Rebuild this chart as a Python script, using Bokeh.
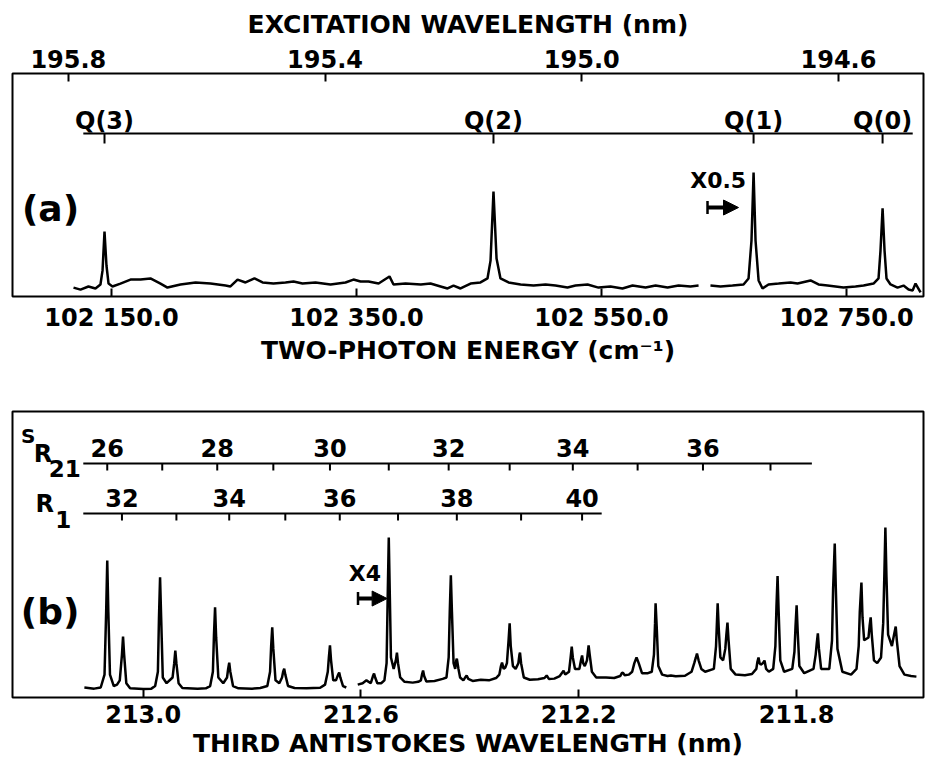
import math
from bokeh.plotting import figure
from bokeh.layouts import column
from bokeh.models import (Range1d, LinearAxis, FixedTicker, PrintfTickFormatter,
                          Arrow, NormalHead, TeeHead)
from bokeh.core.properties import value
from bokeh.embed import file_html
from bokeh.resources import INLINE

NaN = float("nan")
FONT = "DejaVu Sans"

# ---------------- panel (a): two-photon excitation spectrum ----------------
a_energy = [102119.0, 102124.7, 102131.2, 102136.9, 102141.0, 102142.7, 102144.3, 102145.9, 102147.6, 102150.8,
            102157.3, 102165.5, 102173.7, 102181.8, 102190.0, 102195.7, 102206.3, 102218.6, 102230.8, 102243.1,
            102247.1, 102252.9, 102259.4, 102266.7, 102273.3, 102282.2, 102292.0, 102298.6, 102305.9, 102316.5,
            102328.8, 102341.0, 102347.5, 102353.3, 102359.8, 102368.0, 102376.9, 102380.2, 102390.0, 102402.5,
            102410.4, 102418.6, 102424.3, 102429.2, 102434.9, 102443.1, 102451.2, 102456.9, 102459.4, 102461.8,
            102464.3, 102467.5, 102474.1, 102483.9, 102494.5, 102504.3, 102512.4, 102522.2, 102528.8, 102538.6,
            102547.5, 102557.3, 102567.1, 102575.3, 102585.9, 102594.1, 102603.9, 102612.9, 102622.6, 102629.2,
            NaN,
            102638.9, 102647.1, 102656.9, 102665.9, 102670.0, 102672.4, 102674.1, 102675.7, 102678.2, 102681.4,
            102686.3, 102694.5, 102704.3, 102710.0, 102720.6, 102727.1, 102734.5, 102747.5, 102757.3, 102763.9,
            102772.0, 102776.1, 102777.7, 102779.4, 102781.0, 102782.6, 102785.9, 102791.6, 102796.5, 102800.6,
            102803.9, 102806.3, 102810.4]
a_signal = [0.040, 0.031, 0.045, 0.036, 0.054, 0.117, 0.291, 0.139, 0.058, 0.045,
            0.058, 0.076, 0.076, 0.081, 0.058, 0.040, 0.054, 0.063, 0.058, 0.049,
            0.045, 0.076, 0.063, 0.081, 0.063, 0.058, 0.063, 0.067, 0.058, 0.063,
            0.054, 0.063, 0.076, 0.067, 0.067, 0.058, 0.090, 0.054, 0.058, 0.054,
            0.058, 0.045, 0.036, 0.049, 0.036, 0.058, 0.063, 0.081, 0.161, 0.471,
            0.170, 0.081, 0.063, 0.054, 0.049, 0.054, 0.049, 0.040, 0.049, 0.054,
            0.040, 0.045, 0.036, 0.049, 0.040, 0.049, 0.040, 0.049, 0.045, 0.049,
            NaN,
            0.049, 0.045, 0.049, 0.054, 0.081, 0.251, 0.556, 0.251, 0.072, 0.036,
            0.054, 0.058, 0.063, 0.058, 0.072, 0.054, 0.049, 0.040, 0.045, 0.049,
            0.058, 0.081, 0.206, 0.395, 0.206, 0.081, 0.054, 0.040, 0.049, 0.031,
            0.027, 0.058, 0.018]

q_labels = ["Q(3)", "Q(2)", "Q(1)", "Q(0)"]
q_energy = [102144.3, 102461.8, 102674.1, 102779.4]
q_line_span = [102127.0, 102804.0]

a_bottom_ticks = [102150, 102350, 102550, 102750]
a_bottom_labels = ["102 150.0", "102 350.0", "102 550.0", "102 750.0"]
a_top_ticks = [195.8, 195.4, 195.0, 194.6]

# ---------------- panel (b): third antistokes spectrum ----------------
b_wl = [213.108, 213.090, 213.078, 213.071, 213.068, 213.066, 213.064, 213.061, 213.054, 213.048,
        213.043, 213.039, 213.037, 213.035, 213.031, 213.024, 213.000, 212.985,
        212.978, 212.973, 212.971, 212.969, 212.967, 212.964, 212.957, 212.946, 212.943, 212.941, 212.939, 212.935, 212.928, 212.900, 212.885,
        212.877, 212.872, 212.870, 212.868, 212.866, 212.862, 212.853, 212.846, 212.844, 212.842, 212.840, 212.835, 212.825, 212.800, 212.785,
        212.772, 212.767, 212.765, 212.763, 212.761, 212.757, 212.750, 212.745, 212.743, 212.741, 212.739, 212.734, 212.722, 212.700, 212.675,
        212.666, 212.661, 212.659, 212.657, 212.655, 212.651, 212.646, 212.642, 212.640, 212.638, 212.633, 212.627, NaN,
        212.606, 212.597, 212.590, 212.582, 212.578, 212.576, 212.574, 212.570, 212.563,
        212.557, 212.553, 212.551, 212.549, 212.547, 212.545, 212.540, 212.536, 212.534, 212.532, 212.528, 212.520, 212.505, 212.495,
        212.490, 212.488, 212.486, 212.484, 212.480, 212.465, 212.450,
        212.443, 212.439, 212.437, 212.435, 212.433, 212.430, 212.427, 212.425, 212.424, 212.421, 212.418, 212.412, 212.408, 212.406, 212.403, 212.395,
        212.380, 212.365, 212.352, 212.346, 212.343, 212.341, 212.338, 212.335, 212.332, 212.329, 212.327, 212.325, 212.321, 212.316, 212.311, 212.309, 212.308, 212.306, 212.301, 212.290,
        212.275, 212.263, 212.259, 212.255, 212.245, 212.235, 212.230, 212.228, 212.225, 212.218, 212.215, 212.213, 212.211, 212.207,
        212.199, 212.196, 212.194, 212.192, 212.189, 212.185, 212.182, 212.180, 212.176, 212.168, 212.150, 212.135,
        212.124, 212.121, 212.119, 212.116, 212.108, 212.102, 212.098, 212.094, 212.090, 212.084, 212.073,
        212.066, 212.062, 212.060, 212.059, 212.057, 212.054, 212.047, 212.037, 212.031, 212.022, 212.005,
        211.993, 211.988, 211.985, 211.983, 211.980, 211.975, 211.968, 211.952, 211.948, 211.946, 211.945, 211.943, 211.940,
        211.935, 211.931, 211.929, 211.927, 211.925, 211.921, 211.912, 211.895, 211.882,
        211.874, 211.872, 211.870, 211.868, 211.866, 211.862, 211.859, 211.856, 211.851,
        211.843, 211.839, 211.837, 211.835, 211.833, 211.830, 211.823,
        211.808, 211.804, 211.802, 211.800, 211.798, 211.795, 211.786,
        211.769, 211.765, 211.763, 211.761, 211.759, 211.755,
        211.740, 211.735, 211.733, 211.730, 211.728, 211.725, 211.716, 211.700,
        211.690, 211.686, 211.684, 211.681, 211.679, 211.676, 211.668, 211.666, 211.664, 211.662, 211.658, 211.652,
        211.645, 211.641, 211.639, 211.637, 211.635, 211.632, 211.625, 211.621, 211.618, 211.616, 211.611, 211.602, 211.590, 211.580]
b_signal = [0.035, 0.031, 0.035, 0.08, 0.30, 0.479, 0.30, 0.08, 0.04, 0.045,
            0.06, 0.15, 0.213, 0.15, 0.05, 0.032, 0.030, 0.031,
            0.04, 0.09, 0.28, 0.420, 0.28, 0.07, 0.05, 0.07, 0.12, 0.164, 0.12, 0.05, 0.033, 0.031, 0.032,
            0.04, 0.09, 0.22, 0.315, 0.21, 0.07, 0.05, 0.07, 0.10, 0.122, 0.09, 0.04, 0.032, 0.031, 0.033,
            0.04, 0.09, 0.18, 0.245, 0.17, 0.06, 0.05, 0.07, 0.09, 0.101, 0.08, 0.04, 0.033, 0.032, 0.034,
            0.045, 0.09, 0.14, 0.182, 0.13, 0.06, 0.06, 0.08, 0.087, 0.07, 0.04, 0.035, NaN,
            0.045, 0.05, 0.06, 0.05, 0.075, 0.084, 0.07, 0.05, 0.05,
            0.06, 0.12, 0.35, 0.559, 0.35, 0.14, 0.10, 0.13, 0.157, 0.12, 0.07, 0.055, 0.052, 0.055,
            0.06, 0.08, 0.094, 0.075, 0.056, 0.058, 0.065,
            0.07, 0.14, 0.30, 0.427, 0.30, 0.12, 0.10, 0.13, 0.136, 0.10, 0.07, 0.06, 0.072, 0.077, 0.065, 0.058,
            0.062, 0.060, 0.068, 0.08, 0.11, 0.122, 0.10, 0.105, 0.12, 0.20, 0.259, 0.18, 0.11, 0.10, 0.12, 0.15, 0.157, 0.12, 0.07, 0.062,
            0.064, 0.068, 0.077, 0.065, 0.066, 0.075, 0.088, 0.094, 0.08, 0.09, 0.14, 0.178, 0.14, 0.10,
            0.10, 0.13, 0.147, 0.12, 0.11, 0.13, 0.182, 0.15, 0.09, 0.07, 0.070, 0.068,
            0.075, 0.085, 0.087, 0.078, 0.08, 0.09, 0.12, 0.140, 0.12, 0.085, 0.085,
            0.09, 0.15, 0.26, 0.329, 0.25, 0.11, 0.08, 0.075, 0.077, 0.074, 0.076,
            0.09, 0.12, 0.14, 0.154, 0.13, 0.10, 0.09, 0.10, 0.18, 0.28, 0.329, 0.24, 0.14,
            0.13, 0.17, 0.22, 0.262, 0.20, 0.10, 0.08, 0.078, 0.082,
            0.10, 0.125, 0.140, 0.12, 0.115, 0.12, 0.129, 0.10, 0.09,
            0.10, 0.18, 0.32, 0.425, 0.30, 0.13, 0.09,
            0.10, 0.16, 0.25, 0.322, 0.23, 0.11, 0.085,
            0.10, 0.15, 0.19, 0.224, 0.17, 0.10,
            0.10, 0.20, 0.38, 0.538, 0.38, 0.17, 0.09, 0.08,
            0.10, 0.18, 0.30, 0.402, 0.28, 0.20, 0.21, 0.25, 0.280, 0.22, 0.13, 0.12,
            0.14, 0.26, 0.42, 0.594, 0.42, 0.22, 0.18, 0.22, 0.248, 0.20, 0.11, 0.08, 0.075, 0.073]

sr21_J = [26, 27, 28, 29, 30, 31, 32, 33, 34, 35, 36, 37]
sr21_wl = [213.066, 212.965, 212.864, 212.761, 212.657, 212.549, 212.439, 212.327, 212.211, 212.092, 211.972, 211.848]
sr21_span = [213.110, 211.772]
r1_J = [32, 33, 34, 35, 36, 37, 38, 39, 40]
r1_wl = [213.039, 212.939, 212.842, 212.739, 212.639, 212.532, 212.424, 212.306, 212.194]
r1_span = [213.110, 212.158]

b_ticks = [213.0, 212.6, 212.2, 211.8]

assert len(a_energy) == len(a_signal)
assert len(b_wl) == len(b_signal)

LABEL_SIZE = "24px"
TITLE_SIZE = "25px"


def style_axis(ax):
    ax.axis_line_color = None
    ax.major_tick_in = 8
    ax.major_tick_out = 0
    ax.minor_tick_line_color = None
    ax.major_tick_line_width = 2
    ax.major_tick_line_color = "black"
    ax.major_label_text_font = FONT
    ax.major_label_text_font_style = "bold"
    ax.major_label_text_font_size = LABEL_SIZE
    ax.major_label_text_color = "black"
    ax.axis_label_text_font = FONT
    ax.axis_label_text_font_style = "bold"
    ax.axis_label_text_font_size = TITLE_SIZE
    ax.axis_label_text_color = "black"


def texts(p, xs, ys, labels, size=LABEL_SIZE, align="center"):
    p.text(x=xs, y=ys, text=labels, text_align=align, text_baseline="middle",
           text_font=value(FONT), text_font_style="bold", text_font_size=size,
           text_color="black")


# ---------------- figure (a) ----------------
pa = figure(width=925, height=370, output_backend="svg", toolbar_location=None,
            x_range=Range1d(102069.2, 102812.8), y_range=Range1d(0, 1),
            y_axis_location=None,
            min_border_left=12, min_border_right=2, min_border_top=73, min_border_bottom=74)
pa.extra_x_ranges = {"wl": Range1d(195.887, 194.4675)}
pa.grid.visible = False
pa.outline_line_color = "black"
pa.outline_line_width = 2
pa.background_fill_color = "white"
pa.border_fill_color = "white"

bot_a = pa.xaxis[0]
bot_a.ticker = FixedTicker(ticks=a_bottom_ticks)
bot_a.major_label_overrides = {t: l for t, l in zip(a_bottom_ticks, a_bottom_labels)}
bot_a.axis_label = "TWO-PHOTON ENERGY (cm⁻¹)"
style_axis(bot_a)
bot_a.major_label_standoff = 7
bot_a.axis_label_standoff = 1

top_a = LinearAxis(x_range_name="wl", ticker=FixedTicker(ticks=a_top_ticks),
                   formatter=PrintfTickFormatter(format="%.1f"),
                   axis_label="EXCITATION WAVELENGTH (nm)")
style_axis(top_a)
top_a.major_label_standoff = 6
top_a.axis_label_standoff = 8
pa.add_layout(top_a, "above")

pa.line(a_energy, a_signal, line_color="black", line_width=2.5)

Q_Y, Q_TICK_Y, Q_LABEL_Y = 0.731, 0.686, 0.789
pa.segment(x0=[q_line_span[0]], y0=[Q_Y], x1=[q_line_span[1]], y1=[Q_Y], line_color="black", line_width=2)
pa.segment(x0=q_energy, y0=[Q_Y] * len(q_energy), x1=q_energy, y1=[Q_TICK_Y] * len(q_energy),
           line_color="black", line_width=2)
texts(pa, q_energy, [Q_LABEL_Y] * len(q_energy), q_labels)

texts(pa, [102100.2], [0.395], ["(a)"], size="36px")
texts(pa, [102645.2], [0.520], ["X0.5"], size="22px")
pa.add_layout(Arrow(start=TeeHead(size=13, line_width=2.5, line_color="black"),
                    end=NormalHead(size=15, fill_color="black", line_color="black"),
                    x_start=102636.5, y_start=0.399, x_end=102661.8, y_end=0.399,
                    line_width=4, line_color="black"))

# ---------------- figure (b) ----------------
pb = figure(width=925, height=390, output_backend="svg", toolbar_location=None,
            x_range=Range1d(213.240, 211.567), y_range=Range1d(0, 1),
            y_axis_location=None,
            min_border_left=11, min_border_right=2, min_border_top=41, min_border_bottom=63)
pb.grid.visible = False
pb.outline_line_color = "black"
pb.outline_line_width = 2
pb.background_fill_color = "white"
pb.border_fill_color = "white"

bot_b = pb.xaxis[0]
bot_b.ticker = FixedTicker(ticks=b_ticks)
bot_b.formatter = PrintfTickFormatter(format="%.1f")
bot_b.axis_label = "THIRD ANTISTOKES WAVELENGTH (nm)"
style_axis(bot_b)
bot_b.major_label_standoff = 7
bot_b.axis_label_standoff = 3

pb.line(b_wl, b_signal, line_color="black", line_width=2.5)

SR_Y, SR_TICK_Y, SR_LABEL_Y = 0.818, 0.794, 0.874
R1_Y, R1_TICK_Y, R1_LABEL_Y = 0.643, 0.619, 0.696
pb.segment(x0=[sr21_span[0]], y0=[SR_Y], x1=[sr21_span[1]], y1=[SR_Y], line_color="black", line_width=2)
pb.segment(x0=sr21_wl, y0=[SR_Y] * len(sr21_wl), x1=sr21_wl, y1=[SR_TICK_Y] * len(sr21_wl),
           line_color="black", line_width=2)
sr_lab = [(w, str(j)) for w, j in zip(sr21_wl, sr21_J) if j % 2 == 0]
texts(pb, [w for w, _ in sr_lab], [SR_LABEL_Y] * len(sr_lab), [s for _, s in sr_lab])

pb.segment(x0=[r1_span[0]], y0=[R1_Y], x1=[r1_span[1]], y1=[R1_Y], line_color="black", line_width=2)
pb.segment(x0=r1_wl, y0=[R1_Y] * len(r1_wl), x1=r1_wl, y1=[R1_TICK_Y] * len(r1_wl),
           line_color="black", line_width=2)
r1_lab = [(w, str(j)) for w, j in zip(r1_wl, r1_J) if j % 2 == 0]
texts(pb, [w for w, _ in r1_lab], [R1_LABEL_Y] * len(r1_lab), [s for _, s in r1_lab])

# branch names: S superscript, R, 21 subscript; R, 1 subscript
texts(pb, [213.211], [0.915], ["S"], size="20px")
texts(pb, [213.184], [0.853], ["R"], size="24px")
texts(pb, [213.144], [0.802], ["21"], size="23px")
texts(pb, [213.181], [0.677], ["R"], size="24px")
texts(pb, [213.147], [0.624], ["1"], size="23px")

texts(pb, [213.171], [0.301], ["(b)"], size="36px")
texts(pb, [212.593], [0.434], ["X4"], size="22px")
pb.add_layout(Arrow(start=TeeHead(size=13, line_width=2.5, line_color="black"),
                    end=NormalHead(size=15, fill_color="black", line_color="black"),
                    x_start=212.6055, y_start=0.346, x_end=212.552, y_end=0.346,
                    line_width=4, line_color="black"))

layout = column(pa, pb)
open("out.html", "w").write(file_html(layout, INLINE))
